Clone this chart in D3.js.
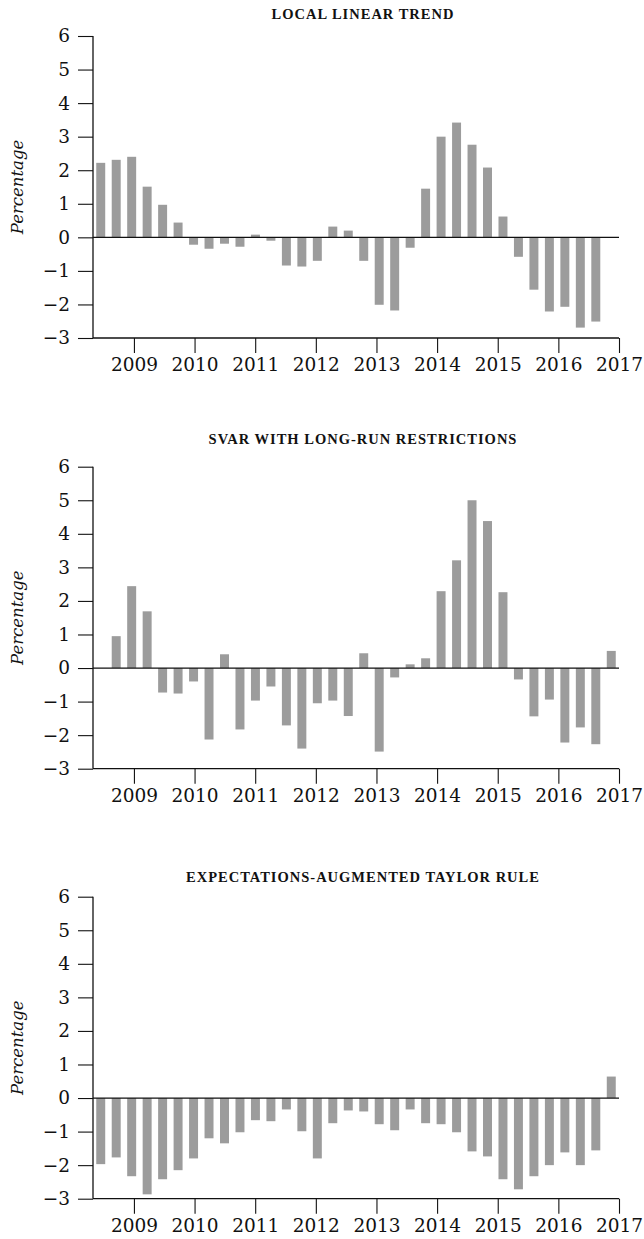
<!DOCTYPE html>
<html>
<head>
<meta charset="utf-8">
<script src="https://cdn.jsdelivr.net/npm/d3@7"></script>
<style>
  html, body { margin: 0; padding: 0; background: #fff; }
  svg { display: block; }
</style>
</head>
<body>
<svg id="chart" width="644" height="1239"></svg>
<script>
// Quarters 2008Q3 .. 2016Q4
const quarters = [];
for (let y = 2008; y <= 2016; y++) for (let q = 1; q <= 4; q++) {
  if (y === 2008 && q < 3) continue;
  quarters.push(y + "Q" + q);
}
const yearTicks = [2009, 2010, 2011, 2012, 2013, 2014, 2015, 2016, 2017];
const yTicks = [-3, -2, -1, 0, 1, 2, 3, 4, 5, 6];

const titles = [
  "LOCAL LINEAR TREND",
  "SVAR WITH LONG-RUN RESTRICTIONS",
  "EXPECTATIONS-AUGMENTED TAYLOR RULE"
];

// null = no bar
const localLinearTrend = [2.22, 2.31, 2.40, 1.51, 0.97, 0.44, -0.22, -0.34, -0.19, -0.28,
  0.08, -0.10, -0.84, -0.87, -0.70, 0.32, 0.20, -0.70, -2.01, -2.18,
  -0.31, 1.45, 3.00, 3.42, 2.76, 2.08, 0.62, -0.58, -1.56, -2.21,
  -2.07, -2.69, -2.51, null];
const svarLongRun = [null, 0.95, 2.44, 1.69, -0.73, -0.76, -0.40, -2.13, 0.41, -1.83,
  -0.97, -0.55, -1.71, -2.40, -1.05, -0.97, -1.43, 0.44, -2.49, -0.28,
  0.11, 0.29, 2.29, 3.21, 5.00, 4.38, 2.26, -0.34, -1.44, -0.94,
  -2.22, -1.77, -2.27, 0.51];
const taylorRule = [-1.97, -1.77, -2.33, -2.87, -2.42, -2.15, -1.80, -1.20, -1.35, -1.02,
  -0.66, -0.69, -0.34, -0.99, -1.80, -0.75, -0.37, -0.40, -0.78, -0.96,
  -0.34, -0.75, -0.78, -1.02, -1.59, -1.74, -2.42, -2.72, -2.33, -2.00,
  -1.62, -2.00, -1.56, 0.64];

const seriesList = [localLinearTrend, svarLongRun, taylorRule];

const svg = d3.select("#chart");
const left = 93, right = 619;
const panelTops = [36, 466.7, 896.7];
const panelH = 302;
const barColor = "#9c9c9c";
const lineColor = "#111";
const serif = "'DejaVu Serif', serif";

const x = d3.scaleBand().domain(quarters).range([left, right])
  .paddingInner(0.42).paddingOuter(0.21);
const xYear = d3.scaleLinear().domain([2008.325, 2017]).range([left, right]);

seriesList.forEach((data, p) => {
  const top = panelTops[p];
  const y = d3.scaleLinear().domain([-3, 6]).range([top + panelH, top]);
  const g = svg.append("g");

  // title
  g.append("text")
    .attr("x", 363)
    .attr("y", top - [17, 22.7, 14.7][p])
    .attr("text-anchor", "middle")
    .attr("font-family", "'Liberation Serif', serif")
    .attr("font-weight", "bold")
    .attr("font-size", 14.5)
    .attr("letter-spacing", 1.0)
    .attr("fill", "#111")
    .text(titles[p]);

  // bars
  const rows = quarters.map((q, i) => ({ q, v: data[i] })).filter(d => d.v !== null);
  g.selectAll("rect.bar").data(rows).enter().append("rect")
    .attr("class", "bar")
    .attr("x", d => x(d.q))
    .attr("width", x.bandwidth())
    .attr("y", d => y(Math.max(0, d.v)))
    .attr("height", d => Math.abs(y(d.v) - y(0)))
    .attr("fill", barColor);

  // zero line
  g.append("line")
    .attr("x1", left).attr("x2", right)
    .attr("y1", y(0)).attr("y2", y(0))
    .attr("stroke", lineColor).attr("stroke-width", 1.3);

  // y axis
  const yAxis = d3.axisLeft(y).tickValues(yTicks).tickSize(15).tickPadding(8)
    .tickFormat(d => d < 0 ? "\u2212" + Math.abs(d) : d);
  const ya = g.append("g").attr("transform", `translate(${left},0)`).call(yAxis);
  ya.select(".domain").attr("stroke", lineColor).attr("stroke-width", 1.3)
    .attr("d", `M0,${y(6)}V${y(-3)}`);
  ya.selectAll(".tick line").attr("stroke", lineColor).attr("stroke-width", 1.1);
  ya.selectAll(".tick text").attr("font-family", serif).attr("font-size", 18.5)
    .attr("fill", "#111");

  // x axis
  const xAxis = d3.axisBottom(xYear).tickValues(yearTicks).tickSize(15).tickPadding(5)
    .tickFormat(d3.format("d"));
  const xa = g.append("g").attr("transform", `translate(0,${y(-3)})`).call(xAxis);
  xa.select(".domain").attr("stroke", lineColor).attr("stroke-width", 1.3)
    .attr("d", `M${left},0H${right}`);
  xa.selectAll(".tick line").attr("stroke", lineColor).attr("stroke-width", 1.1);
  xa.selectAll(".tick text").attr("font-family", serif).attr("font-size", 18.5)
    .attr("fill", "#111");

  // y label
  g.append("text")
    .attr("transform", `translate(23,${top + panelH / 2}) rotate(-90)`)
    .attr("text-anchor", "middle")
    .attr("font-family", serif)
    .attr("font-style", "italic")
    .attr("font-size", 16.5)
    .attr("fill", "#111")
    .text("Percentage");
});
</script>
</body>
</html>
